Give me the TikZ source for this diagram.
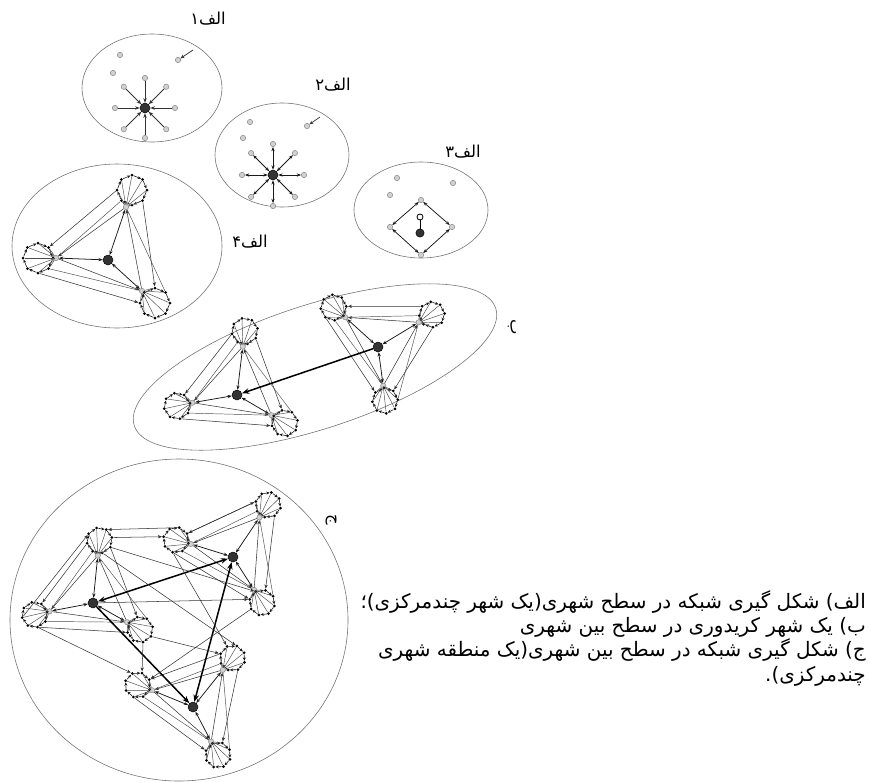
\documentclass[tikz,border=0pt]{standalone}
\usepackage{fontspec}
\newfontfamily\farsi[Script=Arabic]{DejaVu Sans}
\TeXXeTstate=1
\usetikzlibrary{arrows.meta,positioning,calc}
\tikzset{
  zone/.style={draw=black!55,line width=0.5pt},
  hub/.style={circle,fill=black!80,draw=black,inner sep=0pt,minimum size=0.3cm},
  sub/.style={circle,draw=black!50,fill=black!18,inner sep=0pt,minimum size=0.16cm,line width=0.4pt},
  dot/.style={circle,fill=black,inner sep=0pt,minimum size=0.09cm},
  spoke/.style={draw=black!70,line width=0.4pt},
  ring/.style={draw=black!90,line width=0.5pt,-{Stealth[length=1mm,width=0.9mm]}},
  tie/.style={draw=black!80,line width=0.45pt,-{Stealth[length=1.2mm,width=1mm]}},
  pair/.style={draw=black!90,line width=0.65pt,{Stealth[length=1.3mm]}-{Stealth[length=1.3mm]}},
  trunk/.style={draw=black,line width=1.3pt,-{Stealth[length=2.2mm]}},
  lbl/.style={font=\farsi\fontsize{14}{16}\selectfont,inner sep=0pt},
  captext/.style={font=\farsi\fontsize{17}{20.8}\selectfont,inner sep=0pt,align=right},
}
% one sub-centre: ring of small nodes round a grey node
\newcommand{\cluster}[3]{%
  \node[sub] (#1) at (#3) {};
  \begin{scope}[shift={(#2)}]
    \foreach \a [count=\i] in {0,45,...,315}
      \node[dot] (#1-\i) at (\a:15) {};
  \end{scope}
  \foreach \i in {1,...,8}{%
    \pgfmathtruncatemacro\j{mod(\i,8)+1}
    \draw[ring] (#1-\i) -- (#1-\j);
    \draw[spoke] (#1) -- (#1-\i);
  }%
}
% one polycentric city: hub + three sub-centres
\newcommand{\city}[2]{%
  \begin{scope}[#2]
    \node[hub] (#1) at (0,0) {};
    \cluster{#1a}{24,-70}{18,-53}
    \cluster{#1b}{-70,-2}{-52,-2}
    \cluster{#1c}{47,43}{34,31}
    \foreach \s in {a,b,c} \draw[pair] (#1\s) -- (#1);
    \draw[tie] (#1a) -- (#1b);
    \draw[tie] (#1b) -- (#1c);
    \draw[tie] (#1c) -- (#1a);
    \draw[tie] (#1a-5) -- (#1b-8);
    \draw[tie] (#1b-3) -- (#1c-5);
    \draw[tie] (#1a-2) -- (#1c-7);
    \draw[spoke] (#1a-4) -- (#1b);
    \draw[spoke] (#1b-2) -- (#1c);
    \draw[spoke] (#1c-8) -- (#1a);
  \end{scope}%
}
\begin{document}
\begin{tikzpicture}[x=0.03cm,y=-0.03cm]
\useasboundingbox (0,0) rectangle (870,782);

% --- alef 1
\draw[zone] (152,88) ellipse [x radius=70,y radius=54];
\node[lbl] (l1) at (208,19) {\beginR الف۱\endR};
\node[hub] (p) at (145,108) {};
\foreach \a [count=\i] in {0,45,...,315}{
  \node[sub] (p-\i) at ($(p)+(\a:30)$) {};
  \draw[spoke,draw=black!80,line width=0.8pt,-{Stealth[length=1.4mm]}] (p-\i) -- (p);
}
\node[sub] (p1) at (120,55) {};
\node[sub] (p2) at (113,73) {};
\node[sub] (p3) at (178,60) {};
\coordinate (p3in) at (193,50);
\draw[tie,line width=0.6pt] (p3in) -- (p3);

% --- alef 2
\draw[zone] (282,155) ellipse [x radius=67,y radius=52];
\node[lbl] (l2) at (333,85) {\beginR الف۲\endR};
\node[hub] (q) at (273,175) {};
\foreach \a [count=\i] in {0,45,...,315}{
  \node[sub] (q-\i) at ($(q)+(\a:31)$) {};
  \draw[pair] (q-\i) -- (q);
}
\node[sub] (q1) at (250,122) {};
\node[sub] (q2) at (243,138) {};
\node[sub] (q3) at (307,126) {};
\coordinate (q3in) at (320,117);
\draw[tie,line width=0.6pt] (q3in) -- (q3);

% --- alef 3
\draw[zone] (421,210) ellipse [x radius=67,y radius=48];
\node[lbl] (l3) at (463,152) {\beginR الف۳\endR};
\node[sub] (r1) at (397,178) {};
\node[sub] (r2) at (390,195) {};
\node[sub] (r3) at (453,183) {};
\node[sub] (rn) at (421,200) {};
\node[sub] (rw) at (390,227) {};
\node[sub] (re) at (452,227) {};
\node[sub] (rs) at (421,255) {};
\draw[pair] (rn) -- (re);
\draw[pair] (re) -- (rs);
\draw[pair] (rs) -- (rw);
\draw[pair] (rw) -- (rn);
\node[hub,minimum size=0.25cm] (r) at (420,233) {};
\node[circle,draw=black,line width=0.7pt,inner sep=0pt,minimum size=0.18cm] (rloop) at (420,217) {};
\draw[line width=0.7pt] (rloop) -- (r);

% --- alef 4
\draw[zone] (117,246) ellipse [x radius=105,y radius=82];
\node[lbl] (l4) at (250,242) {\beginR الف۴\endR};
\city{F}{shift={(108,260)}}

% --- be
\draw[zone,rotate around={18:(315,367)}] (315,367) ellipse [x radius=190,y radius=62];
\node[lbl,rotate=-90] (lb) at (512,327) {ب};
\city{Bl}{shift={(237,395)},rotate=12,scale=0.87}
\city{Br}{shift={(378,347)},rotate=-40,scale=0.85}
\draw[trunk] (Br) -- (Bl);

% --- jim
\draw[zone] (179,620) ellipse [x radius=169,y radius=161];
\node[lbl,rotate=-90] (lj) at (331,520) {ج};
\city{Cl}{shift={(93,603)},rotate=13,scale=0.85}
\city{Ct}{shift={(233,557)},rotate=-15,scale=0.85}
\city{Cb}{shift={(193,707)},rotate=-20,scale=0.85}
\draw[trunk,{Stealth[length=2.2mm]}-{Stealth[length=2.2mm]}] (Cl) -- (Ct);
\draw[trunk] (Cl) -- (Cb);
\draw[trunk,{Stealth[length=2.2mm]}-{Stealth[length=2.2mm]}] (Ct) -- (Cb);
\draw[tie] (Cla-1) -- (Ctb-5);
\draw[tie] (Ctb-8) -- (Cta-5);
\draw[tie] (Clb-3) -- (Cbb-6);
\draw[tie] (Clc-3) -- (Cbb-7);
\draw[tie] (Cl) -- (Ctc-5);
\draw[tie] (Cla-2) -- (Ctc-6);
\draw[tie] (Ctb-3) -- (Cba-6);
\draw[tie] (Ctc-4) -- (Cbb-8);
\draw[tie] (Clc-2) -- (Cba-5);
\draw[tie] (Cla-3) -- (Cba-7);
\draw[tie] (Clb-5) -- (Cla-6);
\draw[tie] (Ctb-7) -- (Cla-8);

% --- caption
\node[captext,anchor=north east] (caption) at (866,590) {%
  \beginR الف) شکل گیری شبکه در سطح شهری(یک شهر چندمرکزی)؛\endR\\
  \beginR ب) یک شهر کریدوری در سطح بین شهری\endR\\
  \beginR ج) شکل گیری شبکه در سطح بین شهری(یک منطقه شهری\endR\\
  \beginR چندمرکزی).\endR};
\end{tikzpicture}
\end{document}
